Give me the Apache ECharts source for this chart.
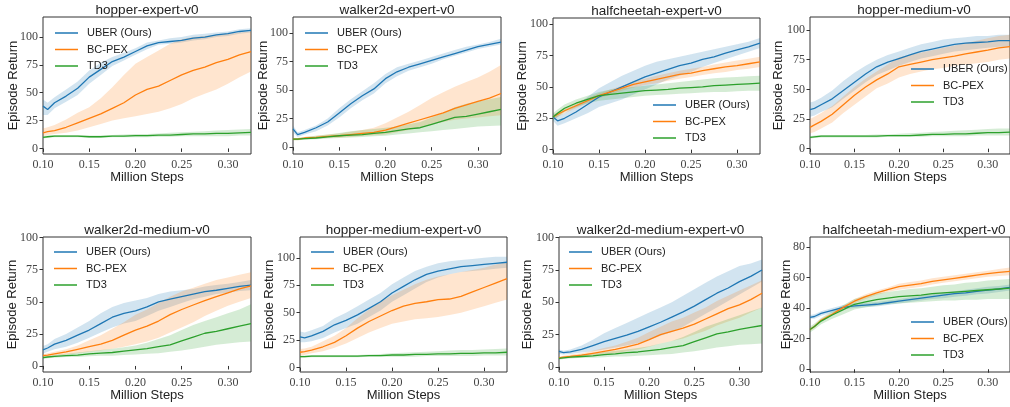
<!DOCTYPE html>
<html>
<head>
<meta charset="utf-8">
<script src="https://cdn.jsdelivr.net/npm/echarts@6/dist/echarts.min.js"></script>
<style>html,body{margin:0;padding:0;background:#fff}#c{width:1010px;height:407px}</style>
</head>
<body>
<div id="c"></div>
<script>
// ---- DATA ----
const steps = [0.1, 0.105, 0.1125, 0.125, 0.1375, 0.15, 0.1625, 0.175, 0.1875, 0.2, 0.2125, 0.225, 0.2375, 0.25, 0.2625, 0.275, 0.2875, 0.3, 0.3125, 0.325];
const methods = ['UBER (Ours)', 'BC-PEX', 'TD3'];
const xTicks = [0.1, 0.15, 0.2, 0.25, 0.3];
const yTicks100 = [0, 25, 50, 75, 100];
const yTicks80 = [0, 20, 40, 60, 80];

// hopper-expert-v0
const HE_uber   = [38, 35, 41, 47, 54, 64, 71, 78, 82, 87, 92, 95, 96, 97, 99, 100, 102, 103, 105, 106];
const HE_uberLo = [30, 30, 36, 42, 48, 58, 66, 74, 79, 84, 89, 93, 94, 95, 97, 98, 100, 101, 103, 104];
const HE_uberHi = [44, 41, 46, 53, 60, 70, 77, 82, 86, 90, 95, 97, 99, 100, 102, 103, 104, 105, 107, 108];
const HE_bc     = [14, 15, 16, 19, 23, 27, 31, 36, 41, 48, 53, 56, 61, 66, 70, 73, 77, 80, 84, 87];
const HE_bcLo   = [11, 12, 13, 14, 16, 19, 22, 25, 27, 29, 31, 33, 36, 40, 45, 49, 53, 58, 64, 69];
const HE_bcHi   = [18, 19, 21, 26, 32, 37, 45, 55, 66, 76, 82, 88, 94, 98, 100, 101, 102, 103, 104, 105];
const HE_td3    = [10, 10.5, 11, 11, 11, 10.5, 10.5, 11, 11, 11.5, 11.5, 12, 12, 12.5, 13, 13, 13.5, 13.5, 14, 14.5];
const HE_td3Lo  = [9, 9.5, 10, 10, 10, 9.5, 9.5, 10, 10, 10, 10, 10.5, 10.5, 11, 11, 11, 11, 11, 11.5, 11.5];
const HE_td3Hi  = [11, 11.5, 12, 12, 12, 11.5, 11.5, 12, 12.5, 13, 13, 13.5, 14, 14.5, 15, 15.5, 16, 16.5, 17, 17.5];

// walker2d-expert-v0
const WE_uber   = [16, 11, 13, 17, 22, 30, 38, 45, 51, 60, 66, 70, 73, 76, 79, 82, 85, 88, 90, 92];
const WE_uberLo = [13, 9, 11, 14, 19, 26, 34, 41, 47, 56, 62, 67, 70, 73, 77, 80, 83, 86, 88, 90];
const WE_uberHi = [19, 13, 15, 19, 25, 34, 42, 49, 56, 64, 70, 73, 76, 79, 82, 85, 88, 90, 92, 95];
const WE_bc     = [7, 7, 8, 8.5, 9.5, 10, 11, 12, 13, 15, 18, 21, 24, 27, 30, 34, 37, 40, 43, 47];
const WE_bcLo   = [6, 6, 7, 7.5, 8, 8.5, 9, 10, 10.5, 11, 13, 15, 17, 20, 22, 24, 25, 26, 27, 28];
const WE_bcHi   = [8, 8, 9, 10, 11, 12, 13.5, 15, 17, 21, 26, 31, 37, 43, 48, 53, 57, 61, 66, 72];
const WE_td3    = [7, 7, 7.5, 8, 9, 10, 10.5, 11, 12, 13, 14.5, 16, 17, 20, 23, 26, 27, 29, 31, 33];
const WE_td3Lo  = [6, 6, 6.5, 7, 7.5, 8, 8.5, 9, 9.5, 10, 11, 12, 13, 14, 15, 16, 17, 18, 18.5, 19];
const WE_td3Hi  = [8, 8, 9, 10, 11, 12.5, 14, 15, 16, 17, 18, 20, 22, 26, 30, 35, 38, 40, 42, 44];

// halfcheetah-expert-v0
const CE_uber   = [26, 23, 25, 30, 36, 42, 46, 50, 54, 58, 61, 64, 67, 69, 72, 74, 77, 79.5, 82, 85];
const CE_uberLo = [23, 19, 21, 25, 29, 34, 37, 40, 44, 48, 52, 56, 59, 62, 66, 69, 72, 75, 78, 81];
const CE_uberHi = [29, 27, 29, 35, 42, 49, 54, 59, 63, 67, 70, 72, 74, 76, 78, 80, 82, 84, 86, 89];
const CE_bc     = [26, 28, 31, 35, 39, 43, 46, 49, 52, 54, 56, 58, 60, 61, 63, 64.5, 66, 67, 68.5, 70];
const CE_bcLo   = [24, 26, 29, 33, 37, 41, 44, 47, 49.5, 51.5, 53, 55, 56.5, 58, 59.5, 61, 62, 63.5, 64.5, 66];
const CE_bcHi   = [28, 30, 33, 37, 41, 45, 48, 51, 54.5, 56.5, 59, 61, 63, 64.5, 66, 68, 69.5, 71, 72.5, 74];
const CE_td3    = [26, 29, 33, 37, 40, 43, 44, 45, 46, 47, 47.5, 48, 49, 49.5, 50, 51, 51.5, 52, 52.5, 53];
const CE_td3Lo  = [23, 26, 30, 34, 37, 39, 40, 41, 42, 43, 43.5, 44, 44.5, 45, 45.5, 46, 46, 46.5, 47, 47];
const CE_td3Hi  = [29, 32, 36, 40, 43, 46, 48, 49, 50, 51, 52, 53, 54, 55, 56, 57, 57.5, 58, 58.5, 59];

// hopper-medium-v0
const HM_uber   = [33, 34, 37, 42, 49, 56, 63, 69, 73, 76, 79, 82, 84, 86, 88, 89, 89.5, 90, 91, 91];
const HM_uberLo = [27, 28, 31, 35, 42, 49, 56, 62, 66, 70, 73, 76, 78, 80, 82, 83, 84, 85, 86, 86];
const HM_uberHi = [39, 40, 43, 49, 57, 64, 70, 75, 79, 82, 85, 88, 90, 92, 93, 94, 95, 95, 96, 96];
const HM_bc     = [18, 20, 23, 29, 37, 45, 52, 58, 63, 69, 71, 73, 75, 76.5, 78, 80, 81.5, 83, 85, 86];
const HM_bcLo   = [13, 14, 17, 22, 30, 37, 44, 51, 55, 60, 63, 65, 67, 68, 70, 71, 72, 73, 75, 76];
const HM_bcHi   = [25, 27, 30, 36, 44, 52, 59, 65, 71, 77, 79, 81, 83, 85, 87, 89, 91, 93, 95, 96];
const HM_td3    = [9.5, 10, 10.5, 10.5, 10.5, 10.5, 10.5, 10.5, 11, 11, 11, 11.5, 12, 12, 12.5, 12.5, 13, 13.5, 13.5, 14];
const HM_td3Lo  = [8.5, 9, 9.5, 9.5, 9.5, 9.5, 9.5, 9.5, 10, 10, 10, 10, 10.5, 10.5, 10.5, 10.5, 11, 11, 11, 11];
const HM_td3Hi  = [10.5, 11, 11.5, 11.5, 11.5, 11.5, 11.5, 12, 12, 12.5, 13, 13.5, 14, 14.5, 15, 15.5, 16, 16.5, 17, 17];

// walker2d-medium-v0
const WM_uber   = [12.5, 14, 17, 20, 24, 28, 33, 38, 41, 43, 46, 50, 52, 54, 56, 58, 59, 60.5, 62, 63];
const WM_uberLo = [9.5, 11, 13, 15, 18, 22, 26, 30, 33, 35, 39, 43, 46, 49, 52, 54, 56, 57, 58.5, 59];
const WM_uberHi = [15.5, 17, 21, 25, 30, 35, 41, 46, 49, 51, 53, 56, 58, 59, 60, 62, 63, 64, 65.5, 67];
const WM_bc     = [8, 8.5, 9.5, 11, 13, 15, 17, 20, 24, 28, 31, 35, 40, 44, 47.5, 51, 54, 57, 60, 62.5];
const WM_bcLo   = [7, 7.5, 8, 9, 10, 11, 12, 13.5, 15, 17, 19, 22, 26, 30, 34, 39, 43, 47, 50, 53];
const WM_bcHi   = [9, 10, 11, 13, 16, 20, 24, 29, 34, 40, 44, 49, 54, 58, 61, 64, 67, 69, 71, 73];
const WM_td3    = [6.5, 7, 7.5, 8, 8.5, 9.5, 10, 10.5, 11.5, 12.5, 13.5, 15, 16.5, 19.5, 22.5, 25.5, 27, 29, 31, 33];
const WM_td3Lo  = [5.5, 6, 6.5, 7, 7, 7.5, 8, 8, 8.5, 9, 9.5, 10, 11, 12, 13.5, 15, 16.5, 17.5, 18.5, 19];
const WM_td3Hi  = [7.5, 8, 8.5, 9.5, 10.5, 11.5, 12.5, 13.5, 14.5, 16, 18, 21, 24, 28, 32, 35, 38, 41, 44, 48];

// hopper-medium-expert-v0
const HX_uber   = [28, 27, 29, 33, 39, 43, 48, 54, 60, 68, 74, 80, 85, 88, 90, 92, 93, 94, 95, 96];
const HX_uberLo = [23, 23, 24, 27, 32, 36, 40, 46, 52, 60, 66, 72, 78, 82, 85, 87, 88, 89, 90, 91];
const HX_uberHi = [33, 32, 34, 38, 45, 50, 56, 62, 68, 76, 82, 88, 92, 95, 97, 98, 99, 100, 101, 101];
const HX_bc     = [14, 14.5, 16, 19, 23, 29, 36, 42, 47, 52, 56, 58.5, 60, 62, 62.5, 65, 69, 73, 77, 81];
const HX_bcLo   = [11, 11.5, 13, 15, 18, 22, 27, 32, 36, 40, 42, 44, 45, 46, 48, 50, 53, 56, 59, 62];
const HX_bcHi   = [17, 17.5, 19, 24, 29, 36, 45, 53, 60, 66, 71, 76, 80, 83, 85, 87, 89, 91, 94, 96];
const HX_td3    = [10, 10, 10.5, 10.5, 10.5, 10.5, 10.5, 11, 11, 11.5, 11.5, 12, 12, 12.5, 12.5, 13, 13, 13.5, 13.5, 14];
const HX_td3Lo  = [9, 9, 9.5, 9.5, 9.5, 9.5, 9.5, 10, 10, 10, 10, 10, 10.5, 10.5, 10.5, 10.5, 10.5, 11, 11, 11];
const HX_td3Hi  = [11, 11, 11.5, 11.5, 11.5, 11.5, 11.5, 12, 12.5, 13, 13.5, 14, 14.5, 15, 15.5, 16, 16, 16.5, 17, 17.5];

// walker2d-medium-expert-v0
const WX_uber   = [12, 11, 11.5, 13.5, 16.5, 19.5, 22, 24.5, 27.5, 31, 34.5, 38.5, 42.5, 47, 52, 57, 61, 66, 70, 75];
const WX_uberLo = [10, 9.5, 10, 11, 12, 13.5, 15, 16.5, 18.5, 21, 24, 27, 31, 36, 41, 46, 51, 56, 61, 66];
const WX_uberHi = [13.5, 12.5, 13.5, 16.5, 21, 26, 30, 34, 38, 42, 46, 50, 55, 60, 65, 70, 74, 78, 80, 83];
const WX_bc     = [7, 7.5, 8, 9, 10.5, 12, 13.5, 15.5, 17.5, 21, 25, 27.5, 30, 33, 37, 41, 45, 48, 52, 57];
const WX_bcLo   = [6, 6.5, 7, 7.5, 8.5, 9.5, 10.5, 12, 13.5, 15.5, 18, 20, 22, 25, 28, 32, 35, 38, 42, 46];
const WX_bcHi   = [8, 8.5, 9.5, 10.5, 12.5, 14.5, 16.5, 19.5, 22.5, 27, 31, 35, 38, 42, 46, 51, 55, 59, 63, 67];
const WX_td3    = [6.5, 7, 7.5, 8, 8.5, 9.5, 10, 11, 11.5, 12.5, 13.5, 15, 16.5, 19.5, 22.5, 25.5, 27, 29, 30.5, 32];
const WX_td3Lo  = [5.5, 6, 6.5, 7, 7, 7.5, 8, 8, 8.5, 9, 9.5, 10, 11, 12, 13.5, 15, 16, 17, 17.5, 18];
const WX_td3Hi  = [7.5, 8, 8.5, 9.5, 10.5, 11.5, 12.5, 13.5, 14.5, 16, 18, 20, 23, 27, 31, 34, 37, 40, 43, 46];

// halfcheetah-medium-expert-v0
const CX_uber   = [34, 34.5, 36.5, 38.5, 40.5, 41.5, 42, 42.5, 43.5, 44.5, 45.5, 46.5, 47.5, 48.5, 49.5, 50, 51, 51.7, 52.5, 53.5];
const CX_uberLo = [33, 33, 35, 37, 39, 40, 40.5, 41, 42, 43, 44, 45, 46, 46.5, 47.5, 48, 49, 49.5, 50.5, 51.5];
const CX_uberHi = [35.5, 36, 38, 40, 42, 43, 43.5, 44, 45, 46, 47, 48, 49, 50, 51, 52, 53, 54, 54.5, 55.5];
const CX_bc     = [26, 28, 32, 36, 40.5, 44.5, 47.5, 50, 52, 54, 55, 56, 57.5, 58.5, 59.5, 60.5, 61.5, 62.5, 63.3, 64];
const CX_bcLo   = [25, 27, 31, 35, 39.5, 43, 46, 48.5, 50.5, 52, 53, 54, 55.5, 56.5, 57.5, 58.5, 59.5, 60.5, 61, 61.5];
const CX_bcHi   = [27, 29, 33, 37, 41.5, 46, 49, 51.5, 53.5, 56, 57, 58, 59.5, 60.5, 61.5, 62.5, 63.5, 64.5, 65.5, 66.5];
const CX_td3    = [26, 28, 31.5, 35.5, 39, 42.5, 44, 45.5, 46.5, 47.5, 48, 48.5, 49.5, 50, 50.5, 51, 51.5, 52, 52.5, 53];
const CX_td3Lo  = [24, 26, 29.5, 33, 36, 39, 40.5, 41.5, 42.5, 43, 43.5, 44, 44.5, 45, 45, 45.5, 45.5, 46, 46, 46];
const CX_td3Hi  = [28, 30, 33.5, 38, 42, 46, 48, 49.5, 50.5, 51.5, 52.5, 53, 54, 55, 55.5, 56.5, 57, 58, 58.5, 59];

// ---- LAYOUT ----
const panels = [
  {title:'hopper-expert-v0', g:[43,17,208,137], y:[-5,118], yt:yTicks100, lg:[55,26], ng:23,
   d:[[HE_uber,HE_uberLo,HE_uberHi],[HE_bc,HE_bcLo,HE_bcHi],[HE_td3,HE_td3Lo,HE_td3Hi]]},
  {title:'walker2d-expert-v0', g:[293,17,208,137], y:[-6,114], yt:yTicks100, lg:[305,26], ng:23.5,
   d:[[WE_uber,WE_uberLo,WE_uberHi],[WE_bc,WE_bcLo,WE_bcHi],[WE_td3,WE_td3Lo,WE_td3Hi]]},
  {title:'halfcheetah-expert-v0', g:[553,18,207,136], y:[-3.5,105], yt:yTicks100, lg:[653,98], ng:24.5,
   d:[[CE_uber,CE_uberLo,CE_uberHi],[CE_bc,CE_bcLo,CE_bcHi],[CE_td3,CE_td3Lo,CE_td3Hi]]},
  {title:'hopper-medium-v0', g:[810,17,208,137], y:[-4.5,111], yt:yTicks100, lg:[911,62], ng:25,
   d:[[HM_uber,HM_uberLo,HM_uberHi],[HM_bc,HM_bcLo,HM_bcHi],[HM_td3,HM_td3Lo,HM_td3Hi]]},
  {title:'walker2d-medium-v0', g:[43,237,208,135], y:[-4.7,100.5], yt:yTicks100, lg:[54,245], ng:24,
   d:[[WM_uber,WM_uberLo,WM_uberHi],[WM_bc,WM_bcLo,WM_bcHi],[WM_td3,WM_td3Lo,WM_td3Hi]]},
  {title:'hopper-medium-expert-v0', g:[300,237,207,135], y:[-4,119], yt:yTicks100, lg:[311,245], ng:24.5,
   d:[[HX_uber,HX_uberLo,HX_uberHi],[HX_bc,HX_bcLo,HX_bcHi],[HX_td3,HX_td3Lo,HX_td3Hi]]},
  {title:'walker2d-medium-expert-v0', g:[559,237,203,135], y:[-4,100.5], yt:yTicks100, lg:[569,245], ng:25,
   d:[[WX_uber,WX_uberLo,WX_uberHi],[WX_bc,WX_bcLo,WX_bcHi],[WX_td3,WX_td3Lo,WX_td3Hi]]},
  {title:'halfcheetah-medium-expert-v0', g:[810,237,208,135], y:[-1.8,86.5], yt:yTicks80, lg:[911,315], ng:17,
   d:[[CX_uber,CX_uberLo,CX_uberHi],[CX_bc,CX_bcLo,CX_bcHi],[CX_td3,CX_td3Lo,CX_td3Hi]]}
];

const colors = ['#1f77b4', '#ff7f0e', '#2ca02c'];
const fills = ['rgba(31,119,180,0.2)', 'rgba(255,127,14,0.2)', 'rgba(44,160,44,0.2)'];
const SANS = 'Liberation Sans';
const SERIF = 'Liberation Serif';

const option = {
  animation: false,
  backgroundColor: '#fff',
  title: [], grid: [], xAxis: [], yAxis: [], legend: [], series: []
};

panels.forEach((p, i) => {
  const [l, t, w, h] = p.g;
  option.grid.push({left: l, top: t, width: w, height: h, show: true, borderColor: '#333', borderWidth: 1, backgroundColor: 'transparent', containLabel: false});
  option.title.push({text: p.title, left: l + w / 2, top: t - 14, textAlign: 'center', padding: 0,
    textStyle: {fontFamily: SANS, fontSize: 13.5, fontWeight: 'normal', color: '#222'}});
  option.xAxis.push({type: 'value', gridIndex: i, min: 0.1, max: 0.325,
    name: 'Million Steps', nameLocation: 'middle', nameGap: 17, nameMoveOverlap: false,
    nameTextStyle: {fontFamily: SANS, fontSize: 13, color: '#222'},
    axisLine: {show: false},
    axisTick: {show: true, length: 3.5, lineStyle: {color: '#333'}, customValues: xTicks},
    axisLabel: {customValues: xTicks, margin: 5, fontFamily: SERIF, fontSize: 12, color: '#444',
      formatter: v => v.toFixed(2)},
    splitLine: {show: false}});
  option.yAxis.push({type: 'value', gridIndex: i, min: p.y[0], max: p.y[1],
    name: 'Episode Return', nameLocation: 'middle', nameGap: p.ng, nameMoveOverlap: false,
    nameTextStyle: {fontFamily: SANS, fontSize: 13, color: '#222'},
    axisLine: {show: false},
    axisTick: {show: true, length: 3.5, lineStyle: {color: '#333'}, customValues: p.yt},
    axisLabel: {customValues: p.yt, margin: 5, fontFamily: SERIF, fontSize: 12, color: '#444'},
    splitLine: {show: false}});
  option.legend.push({left: p.lg[0], top: p.lg[1], orient: 'vertical', data: methods,
    icon: 'rect', itemWidth: 23, itemHeight: 1.5, itemGap: 2.5, padding: 0,
    selectedMode: false,
    textStyle: {fontFamily: SANS, fontSize: 11, color: '#222', lineHeight: 14, padding: [0, 0, 0, 4]}});
  p.d.forEach((m, k) => {
    const [mean, lo, hi] = m;
    const band = steps.map((x, j) => [x, lo[j], hi[j]]);
    option.series.push({
      type: 'custom', name: 'band-' + i + '-' + k, xAxisIndex: i, yAxisIndex: i,
      data: band, encode: {x: 0, y: [1, 2]}, silent: true, clip: true,
      renderItem: (params, api) => {
        if (params.dataIndex !== 0) return null;
        const up = band.map(b => api.coord([b[0], b[2]]));
        const dn = band.map(b => api.coord([b[0], b[1]])).reverse();
        return {type: 'polygon', shape: {points: up.concat(dn)}, style: {fill: fills[k], stroke: null}};
      }
    });
    option.series.push({
      type: 'line', name: methods[k], xAxisIndex: i, yAxisIndex: i,
      data: steps.map((x, j) => [x, mean[j]]), showSymbol: false, symbol: 'none',
      clip: true, color: colors[k],
      lineStyle: {color: colors[k], width: 1.3}, itemStyle: {color: colors[k]}
    });
  });
});

const chart = echarts.init(document.getElementById('c'), null, {renderer: 'canvas'});
chart.setOption(option);
</script>
</body>
</html>
